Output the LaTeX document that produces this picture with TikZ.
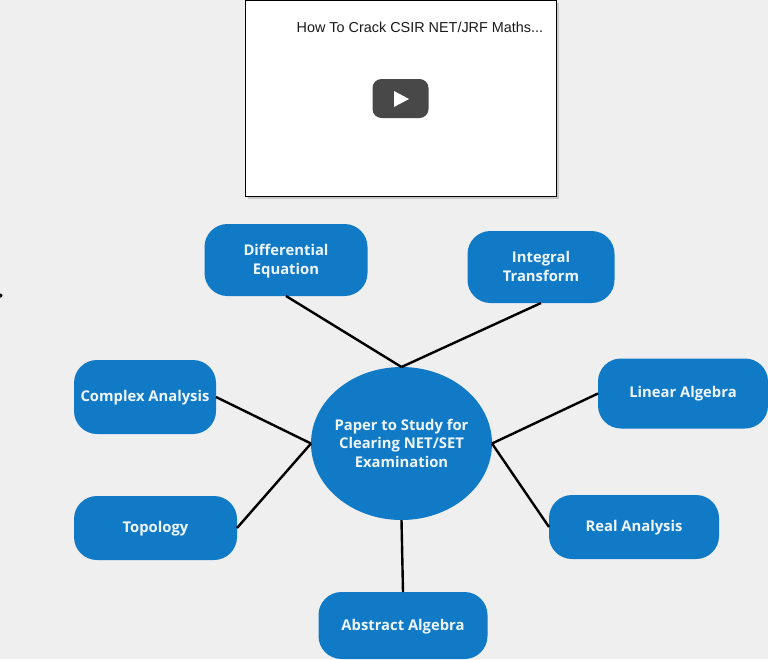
\documentclass[tikz,border=0pt]{standalone}
\usepackage{fontspec}
\setmainfont{Open Sans}
\newfontfamily\titlefont{Liberation Sans}
\definecolor{bg}{HTML}{EFEFF0}
\definecolor{nodeblue}{HTML}{107AC7}
\definecolor{labelwhite}{HTML}{EEF6FC}
\definecolor{playgrey}{HTML}{484848}
\definecolor{shadowgrey}{HTML}{C8C8C8}
\usetikzlibrary{shapes.geometric}
\newcommand\nudged[2]{\raisebox{#1}[\height][\depth]{\begin{tabular}{@{}c@{}}#2\end{tabular}}}
\tikzset{
  topic/.style={draw=none,fill=nodeblue,rounded corners=23pt,inner sep=0pt,outer sep=0pt,
    text=labelwhite,align=center,font=\fontsize{14.8}{19}\selectfont\bfseries},
  hub/.style={ellipse,draw=none,fill=nodeblue,inner sep=0pt,outer sep=0pt,
    minimum width=181pt,minimum height=153pt},
  hublabel/.style={inner sep=0pt,text=labelwhite,align=center,font=\fontsize{14.8}{18.5}\selectfont\bfseries},
  link/.style={draw=black,line width=2.4pt}
}
\begin{document}
\begin{tikzpicture}[x=1pt,y=-1pt]
\useasboundingbox (0,0) rectangle (768,659);
\fill[bg] (0,0) rectangle (768,659);
% video frame
\fill[shadowgrey] (248,3) rectangle (559,199);
\node[draw=black,line width=0.8pt,fill=white,minimum width=311pt,minimum height=196pt,inner sep=0pt,outer sep=0pt] (video) at (400.5,98) {};
\node[anchor=base west,inner sep=0pt,text=black!90,font=\titlefont\fontsize{14.4}{17}\selectfont] (title) at (296.5,32) {How To Crack CSIR NET/JRF Maths...};
\node[fill=playgrey,rounded corners=9pt,minimum width=56pt,minimum height=39pt,inner sep=0pt] (play) at (400.5,98.5) {};
\fill[white] (394,91) -- (409,99) -- (394,107) -- cycle;
% stray dot
\node[circle,fill=black,inner sep=0pt,minimum size=4pt] (dot) at (0.5,295.5) {};
% nodes
\node[hub] (hubn) at (401.5,443.5) {};
\node[hublabel] (hubtext) at (401.5,443.2) {Paper to Study for\\Clearing NET/SET\\Examination};
\node[topic,minimum width=163pt,minimum height=72pt] (de) at (286,260) {\nudged{-1pt}{Differential\\Equation}};
\node[topic,minimum width=147pt,minimum height=72pt] (it) at (541,267) {\nudged{-1pt}{Integral\\Transform}};
\node[topic,minimum width=142pt,minimum height=74pt] (ca) at (145,397) {\nudged{-1pt}{Complex Analysis}};
\node[topic,minimum width=170pt,minimum height=70pt] (la) at (683,393.5) {Linear Algebra};
\node[topic,minimum width=163pt,minimum height=64pt] (to) at (155.5,528) {\nudged{-1pt}{Topology}};
\node[topic,minimum width=170pt,minimum height=64pt] (ra) at (634,527) {\nudged{-0.8pt}{Real Analysis}};
\node[topic,minimum width=169pt,minimum height=67pt] (aa) at (403,625.5) {\nudged{-1pt}{Abstract Algebra}};
% connectors
\draw[link] (de.south) -- (hubn.north);
\draw[link] (it.south) -- (hubn.north);
\draw[link] (ca.east) -- (hubn.west);
\draw[link] (to.east) -- (hubn.west);
\draw[link] (la.west) -- (hubn.east);
\draw[link] (ra.west) -- (hubn.east);
\draw[link] (aa.north) -- (hubn.south);
\end{tikzpicture}
\end{document}
